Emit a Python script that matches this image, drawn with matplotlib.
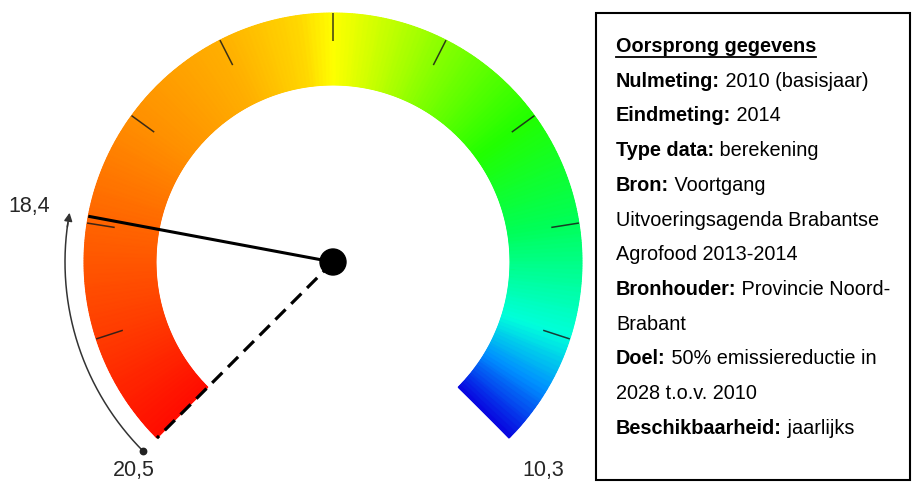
import numpy as np
import matplotlib
matplotlib.use("Agg")
import matplotlib.pyplot as plt
from matplotlib.colors import LinearSegmentedColormap
from matplotlib.patches import Circle, Rectangle

plt.rcParams['font.family'] = ['Liberation Sans', 'DejaVu Sans']

# ---- data ----
start_value = 20.5      # value at the start of the gauge (2010)
end_value = 10.3        # value at the end of the gauge (target)
current_value = 18.4    # current measurement
n_ticks = 11            # tick divisions incl. both ends

box_title = "Oorsprong gegevens"
box_labels = ["Nulmeting:", "Eindmeting:", "Type data:", "Bron:", "", "",
              "Bronhouder:", "", "Doel:", "", "Beschikbaarheid:"]
box_values = [" 2010 (basisjaar)", " 2014", " berekening", " Voortgang",
              "Uitvoeringsagenda Brabantse", "Agrofood 2013-2014",
              " Provincie Noord-", "Brabant", " 50% emissiereductie in",
              "2028 t.o.v. 2010", " jaarlijks"]

# colour stops along the gauge (fraction, colour)
grad_pos = [0.0, 0.1, 0.2, 0.3, 0.4, 0.47, 0.5, 0.6, 0.7, 0.8, 0.9, 0.95, 1.0]
grad_col = ["#ff0c00", "#ff3c00", "#ff6400", "#ff9000", "#ffb000", "#ffd800",
            "#ffff00", "#88ff00", "#22ff00", "#00ff58", "#00ffdc", "#0090ff",
            "#0808e0"]

# ---- layout ----
W, H = 913, 482
fig = plt.figure(figsize=(W / 100, H / 100), dpi=100)
ax = fig.add_axes([0, 0, 1, 1])
ax.set_xlim(0, W)
ax.set_ylim(H, 0)
ax.axis('off')

cx, cy = 333, 262
r_out, r_in = 249, 177
a_start, a_end = 225.0, -45.0


def pt(r, ang):
    a = np.deg2rad(ang)
    return cx + r * np.cos(a), cy - r * np.sin(a)


def val2ang(v):
    f = (start_value - v) / (start_value - end_value)
    return a_start + f * (a_end - a_start)


cmap = LinearSegmentedColormap.from_list("gauge", list(zip(grad_pos, grad_col)))

# gradient band
t = np.linspace(0, 1, 721)
angs = a_start + t * (a_end - a_start)
R = np.array([r_in, r_out])[:, None]
X = cx + R * np.cos(np.deg2rad(angs))[None, :]
Y = cy - R * np.sin(np.deg2rad(angs))[None, :]
C = np.repeat(t[None, :], 2, axis=0)
ax.pcolormesh(X, Y, C, cmap=cmap, shading='gouraud', vmin=0, vmax=1, zorder=1)

# ticks
for i in range(1, n_ticks - 1):
    ang = a_start + i / (n_ticks - 1) * (a_end - a_start)
    x0, y0 = pt(r_out, ang)
    x1, y1 = pt(r_out - 28, ang)
    ax.plot([x0, x1], [y0, y1], color="#1a1a1a", lw=1.1, alpha=0.85, zorder=2,
            solid_capstyle='butt')

# dashed line to start
xs, ys = pt(r_out, a_start)
ax.plot([cx, xs], [cy, ys], color="black", lw=2.3, ls=(0, (4.5, 2.5)), zorder=3)

# needle
ang_v = val2ang(current_value)
xn, yn = pt(r_out, ang_v)
ax.plot([cx, xn], [cy, yn], color="black", lw=2.2, zorder=3,
        solid_capstyle='butt')
ax.add_patch(Circle((cx, cy), 13, color="black", zorder=4))

# progress arc with arrow
r_arc = 268
arc_a = np.linspace(a_start, ang_v, 200)
ax_x, ax_y = pt(r_arc, arc_a)
ax.plot(ax_x[:-8], ax_y[:-8], color="#333333", lw=1.1, zorder=3)
ax.annotate("", xy=(ax_x[-1], ax_y[-1]), xytext=(ax_x[-12], ax_y[-12]),
            arrowprops=dict(arrowstyle='-|>', color="#333333", lw=1.1,
                            mutation_scale=12, shrinkA=0, shrinkB=0))
ax.add_patch(Circle((ax_x[0], ax_y[0]), 3.2, color="#222222", zorder=4))


def fmt(v):
    return f"{v:.1f}".replace('.', ',')


lab_kw = dict(fontsize=15.5, color="#262626")
ax.text(29, 212, fmt(current_value), ha='center', va='baseline', **lab_kw)
sx, sy = pt(r_out, a_start)
ex, ey = pt(r_out, a_end)
ax.text(sx - 23, 476, fmt(start_value), ha='center', va='baseline', **lab_kw)
ax.text(ex + 34, 476, fmt(end_value), ha='center', va='baseline', **lab_kw)

# info box
ax.add_patch(Rectangle((596, 13), 314, 467, fill=False, ec="black", lw=1.5,
                       zorder=5))
fs = 14.3
tx = 616
title = ax.text(tx, 52, box_title, fontsize=fs, fontweight='bold',
                va='baseline', ha='left', color="black")
y = 52
step = 34.7
for lab, val in zip(box_labels, box_values):
    y += step
    if lab:
        tb = ax.text(tx, y, lab, fontsize=fs, fontweight='bold',
                     va='baseline', ha='left', color="black")
        ax.annotate(val, xy=(1, 0), xycoords=tb, va='bottom', ha='left',
                    fontsize=fs, color="black")
    else:
        ax.text(tx, y, val, fontsize=fs, va='baseline', ha='left',
                color="black")

fig.canvas.draw()
bb = title.get_window_extent()
inv = ax.transData.inverted()
(x0, _), (x1, _) = inv.transform([[bb.x0, bb.y0], [bb.x1, bb.y0]])
ax.plot([x0, x1], [57, 57], color="black", lw=1.3, zorder=5)

fig.savefig("out.png", dpi=100)
